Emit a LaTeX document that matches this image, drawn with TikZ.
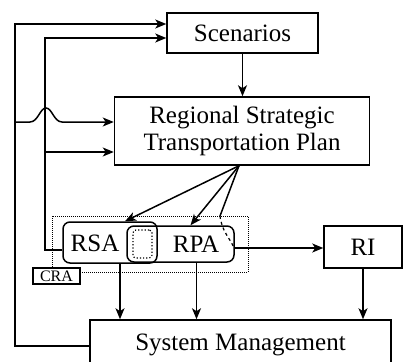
\documentclass[tikz,border=0pt]{standalone}
\usepackage{fontspec}
\setmainfont{Liberation Serif}
\usetikzlibrary{arrows.meta}

\newcommand{\boxfont}{\fontsize{25}{27}\selectfont}
\newcommand{\tagfont}{\fontsize{16}{18}\selectfont}

\begin{document}
\begin{tikzpicture}[x=1pt, y=-1pt, line width=1.5pt,
    every node/.style={font=\boxfont, inner sep=0pt},
    plainbox/.style={draw, rectangle},
    softbox/.style={draw, rounded corners=7pt},
    arr/.style={-{Stealth[length=11pt, width=9pt, inset=3pt]}}]

    \useasboundingbox (0,0) rectangle (406,361);
    \clip (0,0) rectangle (406,361);

    % Boxes.
    \node[plainbox, minimum width=151pt, minimum height=40pt] (scen) at (242.5,33) {Scenarios};
    \node[plainbox, minimum width=255pt, minimum height=68pt, align=center] (rstp) at (242,131) {Regional Strategic\\Transportation Plan};
    \node[plainbox, minimum width=78pt, minimum height=42pt] (ri) at (363,247) {RI};
    \node[plainbox, minimum width=301pt, minimum height=50pt] (sysm) at (240.5,345) {System Management};

    % CRA zone.
    \node[draw, densely dotted, line width=1pt, minimum width=196pt, minimum height=56pt] (crazone) at (150,244) {};
    \node[plainbox, fill=white, font=\tagfont, minimum width=47pt, minimum height=16pt] (cralabel) at (56.5,276) {CRA};

    % RSA and RPA, overlapping.
    \node[softbox, minimum width=94pt, minimum height=41pt] (rsa) at (110,242.5) {};
    \node[softbox, minimum width=107pt, minimum height=36pt] (rpa) at (180.5,244) {};
    \node[draw, dotted, line width=1.2pt, rounded corners=3pt, minimum width=19pt, minimum height=28pt] (ovl) at (142.5,244) {};
    \node (rsatext) at (95,243) {RSA};
    \node (rpatext) at (196,244) {RPA};

    % Top-down arrows.
    \draw[arr] (scen.south) -- (scen.south |- rstp.north);
    \coordinate (fan) at ([xshift=-3pt]rstp.south);
    \draw[arr] (fan) -- ([xshift=15pt]rsa.north);
    \draw[arr] (fan) -- ([xshift=10pt]rpa.north);
    \coordinate (bend) at (220,216);
    \draw (fan) -- (bend);
    \draw[dashed, line width=1.2pt] (bend) .. controls (222,232) and (230,238) .. (234,248);

    \coordinate (rpaout) at ([yshift=-4pt]rpa.east);
    \draw[arr] (rpaout) -- (rpaout -| ri.west);

    % Into System Management.
    \coordinate (rsadown) at ([xshift=10pt]rsa.south);
    \coordinate (rpadown) at ([xshift=16pt]rpa.south);
    \draw[arr] (rsadown) -- (rsadown |- sysm.north);
    \draw[arr] (rpadown) -- (rpadown |- sysm.north);
    \draw[arr] (ri.south) -- (ri.south |- sysm.north);

    % Feedback loops.
    \coordinate (innerin) at ([yshift=-7.5pt]rsa.west);
    \coordinate (innerx) at (45,152);
    \coordinate (scenlow) at ([yshift=-5pt]scen.west);
    \draw[arr] (innerin) -| (innerx) |- (scenlow);
    \draw[arr] (innerx) -- (innerx -| rstp.west);

    \coordinate (sysmin) at ([yshift=-1pt]sysm.west);
    \coordinate (outerx) at (15,122);
    \coordinate (scenhigh) at ([yshift=9pt]scen.west);
    \draw[arr] (sysmin) -| (outerx) |- (scenhigh);
    \draw[arr] (outerx) -- ++(15,0) .. controls +(8,0) and +(-6,0) .. ++(16,-14)
        .. controls +(6,0) and +(-8,0) .. ++(16,14) -- (outerx -| rstp.west);

\end{tikzpicture}
\end{document}
